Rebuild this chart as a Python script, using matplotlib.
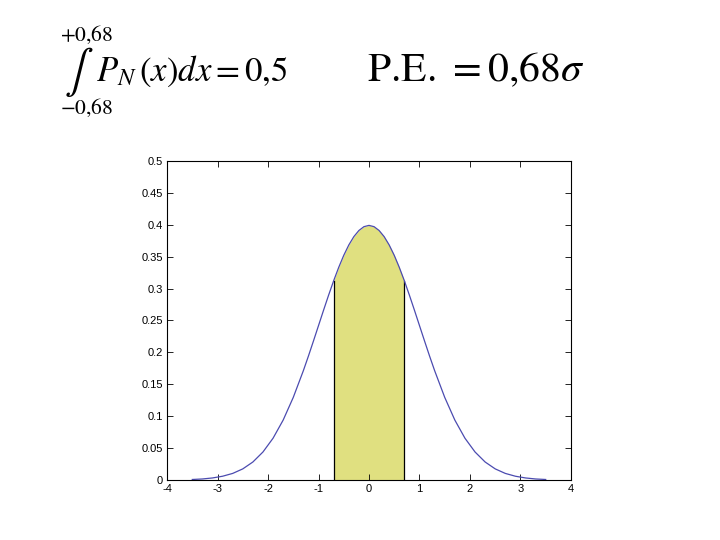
import matplotlib
matplotlib.use('Agg')
import matplotlib.pyplot as plt

# values
x = [-3.5, -3.3, -3.1, -2.9, -2.7, -2.5, -2.3, -2.1, -1.9, -1.7, -1.5, -1.3,
     -1.2, -1.1, -1.0, -0.9, -0.8, -0.7, -0.6, -0.5, -0.4, -0.3, -0.2, -0.1, 0.0,
     0.1, 0.2, 0.3, 0.4, 0.5, 0.6, 0.7, 0.8, 0.9, 1.0, 1.1, 1.2,
     1.3, 1.5, 1.7, 1.9, 2.1, 2.3, 2.5, 2.7, 2.9, 3.1, 3.3, 3.5]
y = [0.0009, 0.0017, 0.0033, 0.006, 0.0104, 0.0175, 0.0283, 0.044, 0.0656,
     0.094, 0.1295, 0.1714,
     0.1942, 0.2179, 0.242, 0.2661, 0.2897, 0.3123, 0.3332, 0.3521, 0.3683,
     0.3814, 0.391, 0.397, 0.399,
     0.397, 0.391, 0.3814, 0.3683, 0.3521, 0.3332, 0.3123, 0.2897, 0.2661,
     0.242, 0.2179, 0.1942,
     0.1714, 0.1295, 0.094, 0.0656, 0.044, 0.0283, 0.0175, 0.0104, 0.006,
     0.0033, 0.0017, 0.0009]
pe = 0.7

xticks = [-4, -3, -2, -1, 0, 1, 2, 3, 4]
yticks = [0, 0.05, 0.1, 0.15, 0.2, 0.25, 0.3, 0.35, 0.4, 0.45, 0.5]

plt.rcParams['mathtext.fontset'] = 'stix'

fig = plt.figure(figsize=(7.2, 5.4), dpi=100)
ax = fig.add_axes([0.232, 0.111, 0.561, 0.591])

xs = [v for v in x if -pe <= v <= pe]
ys = [y[i] for i in range(len(x)) if -pe <= x[i] <= pe]
ax.fill_between(xs, ys, 0, color='#e0e080', lw=0)
ax.plot([-pe, -pe], [0, ys[0]], color='black', lw=0.9)
ax.plot([pe, pe], [0, ys[-1]], color='black', lw=0.9)
ax.plot(x, y, color='#4b4bb0', lw=0.9)

ax.set_xlim(-4, 4)
ax.set_ylim(0, 0.5)
ax.set_xticks(xticks)
ax.set_xticklabels([str(t) for t in xticks])
ax.set_yticks(yticks)
ax.set_yticklabels(['0', '0.05', '0.1', '0.15', '0.2', '0.25', '0.3', '0.35', '0.4', '0.45', '0.5'])
ax.tick_params(direction='in', top=True, right=True, labelsize=8, length=4, width=0.6, pad=3)
for lab in ax.get_xticklabels() + ax.get_yticklabels():
    lab.set_family('Liberation Sans')
for s in ax.spines.values():
    s.set_linewidth(0.8)

# formulas
fig.text(0.083, 0.935, r'$+0{,}68$', fontsize=15.5, va='center', ha='left')
fig.text(0.083, 0.800, r'$-0{,}68$', fontsize=15.5, va='center', ha='left')
fig.text(0.110, 0.866, r'$\int$', fontsize=31, va='center', ha='center')
fig.text(0.134, 0.868, r'$P_N\,(x)dx = 0{,}5$', fontsize=25, va='center', ha='left')
fig.text(0.51, 0.868, r'P.E. $= 0{,}68\sigma$', fontsize=30, va='center', ha='left',
         family='STIXGeneral')

fig.savefig('out.png', dpi=100)
